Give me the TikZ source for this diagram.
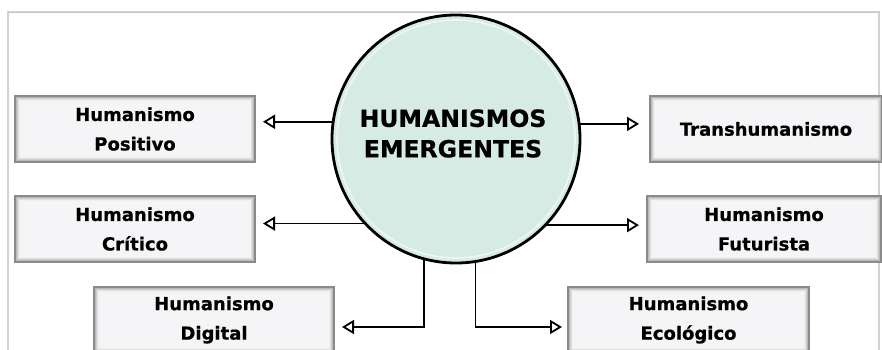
\documentclass[tikz,border=0pt]{standalone}
\usepackage{fontspec}
\setmainfont{DejaVu Sans}
\newfontfamily\heavyfont{DejaVu Sans}[UprightFont={* Bold}, FakeBold=0.7]
\usetikzlibrary{arrows.meta}
\definecolor{mint}{HTML}{D5EBE3}
\definecolor{boxfill}{HTML}{F5F5F7}
\definecolor{boxline}{HTML}{8A8A8A}
\definecolor{panelline}{HTML}{D2D2D2}
\tikzset{
  box/.style={draw=boxline, line width=1.2pt, fill=boxfill, minimum width=240pt,
    minimum height=66pt, inner sep=0pt, outer sep=0pt, align=center,
    font=\heavyfont\fontsize{18}{29.5}\selectfont},
  hub/.style={circle, draw=black, line width=2.8pt, fill=mint, minimum size=248pt,
    inner sep=0pt, outer sep=0pt},
  hubtext/.style={align=center, font=\heavyfont\fontsize{23.6}{30.5}\selectfont, inner sep=0pt},
  arr/.style={line width=1.8pt, -{Triangle[open, length=12pt, width=14pt]}},
}
\newcommand\bevel[1]{%
  \foreach \i/\c in {1.2/28,2.2/19,3.2/12,4.2/6}{%
    \draw[black!\c, line width=1pt] ([shift={(\i,\i)}]#1.north west) rectangle ([shift={(-\i,-\i)}]#1.south east);}}
\begin{document}
\begin{tikzpicture}[x=1pt, y=-1pt]
\useasboundingbox (0,0) rectangle (882,350);
\begin{scope}
\clip (0,0) rectangle (882,350);
\fill[white] (0,0) rectangle (882,350);
\draw[panelline, line width=1.4pt] (8,12) rectangle (879,360);
\draw[gray!45, line width=1pt] (8,12.5) -- (879,12.5);
\end{scope}
% hub
\node[hub] (c) at (456,139) {};
\draw[white, opacity=0.6, line width=1.6pt] (c.center) circle[radius=119pt];
\node[hubtext] (ct) at (453,133.5) {HUMANISMOS\\EMERGENTES};
% boxes
\node[box] (pos) at (135,129) {Humanismo\\Positivo};
\node[box] (cri) at (135,229) {Humanismo\\Crítico};
\node[box] (dig) at (214,320) {Humanismo\\Digital};
\node[box, minimum width=232pt] (tra) at (766,129) {Transhumanismo};
\node[box, minimum width=234pt] (fut) at (764,229) {Humanismo\\Futurista};
\node[box, minimum width=241pt] (eco) at (688.5,320) {Humanismo\\Ecológico};
\bevel{pos}\bevel{cri}\bevel{dig}\bevel{tra}\bevel{fut}\bevel{eco}
% connectors
\draw[arr, shorten >=8pt] (c.172.6) -- (c.172.6 -| pos.east);
\draw[arr, shorten >=8pt] (c.223.5) -- (c.223.5 -| cri.east);
\draw[arr, shorten >=11pt] (c.7.4) -- (c.7.4 -| tra.west);
\draw[arr, shorten >=8pt] (c.316) -- (c.316 -| fut.west);
\draw[arr, shorten >=8pt] (c.255.5) |- ([yshift=-7pt]dig.east);
\draw[arr, shorten >=6pt] (c.279.8) |- ([yshift=-7pt]eco.west);
\end{tikzpicture}
\end{document}
